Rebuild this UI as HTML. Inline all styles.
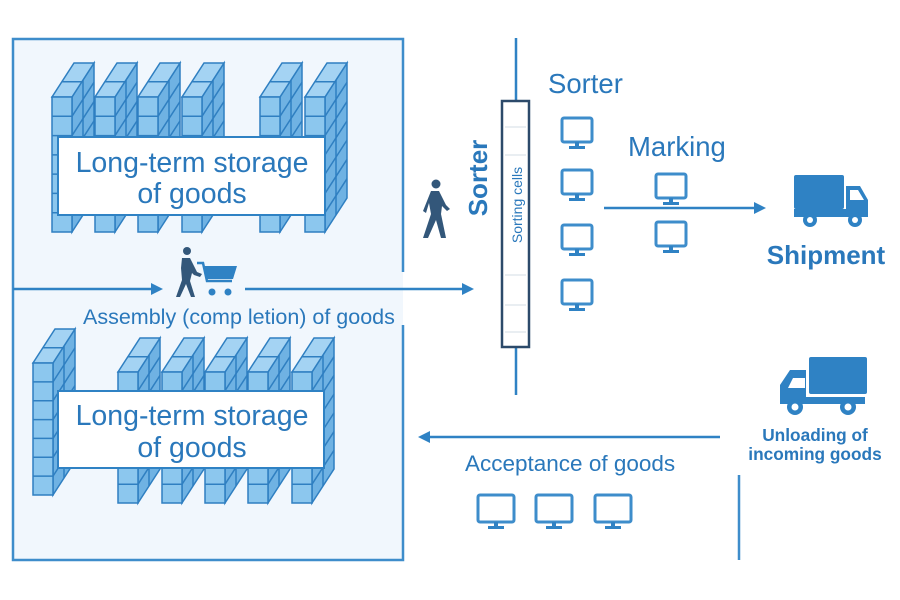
<!DOCTYPE html>
<html><head><meta charset="utf-8"><style>
html,body{margin:0;padding:0;background:#fff;}
svg{display:block;font-family:"Liberation Sans",sans-serif;}
</style></head><body>
<svg id="s" width="900" height="600" viewBox="0 0 900 600" xmlns="http://www.w3.org/2000/svg">
<rect x="0" y="0" width="900" height="600" fill="#fff"/>
<rect x="13" y="39" width="390" height="521" fill="#f1f7fd"/>
<g fill="none" stroke="#3e8dcb" stroke-width="2.5">
<polyline points="403,272 403,39 13,39 13,560 403,560 403,325"/>
</g>
<g id="racks"></g>
<rect x="58" y="137" width="267" height="78" fill="#fff" stroke="#2f82c4" stroke-width="2"/>
<text x="192" y="172" font-size="28.5" fill="#2a78bb" text-anchor="middle">Long-term storage</text>
<text x="192" y="203" font-size="28.5" fill="#2a78bb" text-anchor="middle">of goods</text>
<rect x="58" y="391" width="266" height="77" fill="#fff" stroke="#2f82c4" stroke-width="2"/>
<text x="192" y="425" font-size="28.5" fill="#2a78bb" text-anchor="middle">Long-term storage</text>
<text x="192" y="457" font-size="28.5" fill="#2a78bb" text-anchor="middle">of goods</text>
<g stroke="#2f82c4" stroke-width="2.5" fill="#2f82c4">
<line x1="13" y1="289" x2="152" y2="289"/><polygon points="163,289 151,283 151,295" stroke="none"/>
<line x1="245" y1="289" x2="462" y2="289"/><polygon points="474,289 462,283 462,295" stroke="none"/>
<line x1="604" y1="208" x2="754" y2="208"/><polygon points="766,208 754,202 754,214" stroke="none"/>
<line x1="720" y1="437" x2="430" y2="437"/><polygon points="418,437 430,431 430,443" stroke="none"/>
</g>
<text x="83" y="324" font-size="21.5" fill="#2a78bb">Assembly (comp letion) of goods</text>
<g fill="#33577a">
<circle cx="187" cy="251" r="4"/>
<path d="M182,258 L190,258 L197,272 L202,274 L200,277 L194,275 L192,273 L190,281 L195,297 L191,297 L186,284 L180,297 L176,297 L182,280 L181,268 Z"/>
</g>
<g fill="#2f82c4" stroke="#2f82c4">
<path d="M197,263 L203,263 L207,281 L232,281" fill="none" stroke-width="2.5"/>
<polygon points="203,266 237,266 233,279 206,279" stroke="none"/>
<circle cx="212" cy="292" r="3.5" stroke="none"/><circle cx="228" cy="292" r="3.5" stroke="none"/>
</g>
<g fill="#33577a">
<circle cx="436" cy="184" r="4.5"/>
<path d="M431,191 L439,191 L446,205 L450,209 L447,211 L442,206 L441,214 L446,238 L441,238 L436,220 L428,238 L423,238 L431,214 L429,203 L426,213 L423,211 Z"/>
</g>
<line x1="516" y1="38" x2="516" y2="395" stroke="#2f82c4" stroke-width="2.5"/>
<rect x="502" y="101" width="27" height="246" fill="#fff" stroke="#2c4a6a" stroke-width="2.5"/>
<g stroke="#e2e8ee" stroke-width="1.5">
<line x1="505" y1="127" x2="526" y2="127"/><line x1="505" y1="155" x2="526" y2="155"/><line x1="505" y1="275" x2="526" y2="275"/><line x1="505" y1="305" x2="526" y2="305"/><line x1="505" y1="332" x2="526" y2="332"/>
</g>
<text transform="translate(522,205) rotate(-90)" font-size="14" fill="#2a78bb" text-anchor="middle">Sorting cells</text>
<text transform="translate(487,178) rotate(-90)" font-size="26" font-weight="bold" fill="#2a78bb" text-anchor="middle">Sorter</text>
<text x="548" y="93" font-size="27.5" fill="#2a78bb">Sorter</text>
<text x="628" y="156" font-size="27.5" fill="#2a78bb">Marking</text>
<text x="826" y="264" font-size="26" font-weight="bold" fill="#2a78bb" text-anchor="middle">Shipment</text>
<g id="mons"></g>
<g fill="#2f82c4">
<rect x="794" y="175" width="50" height="34" rx="2"/>
<path d="M846,186 L860,186 L868,200 L868,217 L794,217 L794,209 L846,209 Z"/>
<circle cx="810" cy="220" r="7" fill="#2f82c4"/><circle cx="810" cy="220" r="3" fill="#fff"/>
<circle cx="855" cy="220" r="7" fill="#2f82c4"/><circle cx="855" cy="220" r="3" fill="#fff"/>
<rect x="809" y="357" width="58" height="37" rx="2"/>
<path d="M806,370 L790,370 L780,385 L780,404 L865,404 L865,397 L806,397 Z"/>
<circle cx="795" cy="407" r="8"/><circle cx="795" cy="407" r="3.5" fill="#fff"/>
<circle cx="848" cy="407" r="8"/><circle cx="848" cy="407" r="3.5" fill="#fff"/>
</g>
<polygon points="793,378 805,378 805,388 788,388" fill="#fff"/>
<polygon points="850,190 858,190 864,200 850,200" fill="#fff"/>
<text x="815" y="441" font-size="17.3" font-weight="bold" fill="#2a78bb" text-anchor="middle">Unloading of</text>
<text x="815" y="460" font-size="17.3" font-weight="bold" fill="#2a78bb" text-anchor="middle">incoming goods</text>
<text x="465" y="471" font-size="22.5" fill="#2a78bb">Acceptance of goods</text>
<line x1="739" y1="475" x2="739" y2="560" stroke="#3e8dcb" stroke-width="2.5"/>
</svg>
<script>
var NS="http://www.w3.org/2000/svg";
function el(p,t,a){var e=document.createElementNS(NS,t);for(var k in a)e.setAttribute(k,a[k]);p.appendChild(e);return e;}
var R=document.getElementById("racks");
function col(x,top,bot,w,dx,dy){
 var st={stroke:"#2f7fc1","stroke-width":1.5};
 el(R,"polygon",Object.assign({points:[x+w,top,x+w+dx,top-dy,x+w+dx,bot-dy,x+w,bot].join(","),fill:"#6fb2e3"},st));
 el(R,"polygon",Object.assign({points:[x,top,x+w,top,x+w+dx,top-dy,x+dx,top-dy].join(","),fill:"#a4d3f3"},st));
 el(R,"line",Object.assign({x1:x+dx*0.45,y1:top-dy*0.45,x2:x+w+dx*0.45,y2:top-dy*0.45},st));
 el(R,"rect",Object.assign({x:x,y:top,width:w,height:bot-top,fill:"#8cc7ee"},st));
 var h=(bot-top)/Math.round((bot-top)/19);
 for(var y=top+h;y<bot-1;y+=h){
  el(R,"line",Object.assign({x1:x,y1:y,x2:x+w,y2:y},st));
  el(R,"line",Object.assign({x1:x+w,y1:y,x2:x+w+dx,y2:y-dy},st));
 }
 el(R,"line",Object.assign({x1:x+w+dx*0.5,y1:top-dy*0.5,x2:x+w+dx*0.5,y2:bot-dy*0.5},st));
}
[52,95,138,182,260,305].forEach(function(x){col(x,97,232,20,22,34);});
col(33,363,495,20,22,34);
[118,162,205,248,292].forEach(function(x){col(x,372,503,20,22,34);});
var M=document.getElementById("mons");
function mon(x,y,w,h){
 el(M,"rect",{x:x,y:y,width:w,height:h,rx:2,fill:"#fff",stroke:"#3e8dcb","stroke-width":3});
 el(M,"rect",{x:x+w/2-2,y:y+h,width:4,height:4,fill:"#2f82c4"});
 el(M,"rect",{x:x+w/2-8,y:y+h+4,width:16,height:3,fill:"#2f82c4"});
}
[118,170,225,280].forEach(function(y){mon(562,y,30,24);});
[174,222].forEach(function(y){mon(656,y,30,24);});
[478,536,595].forEach(function(x){mon(x,495,36,27);});
</script>
</body></html>
